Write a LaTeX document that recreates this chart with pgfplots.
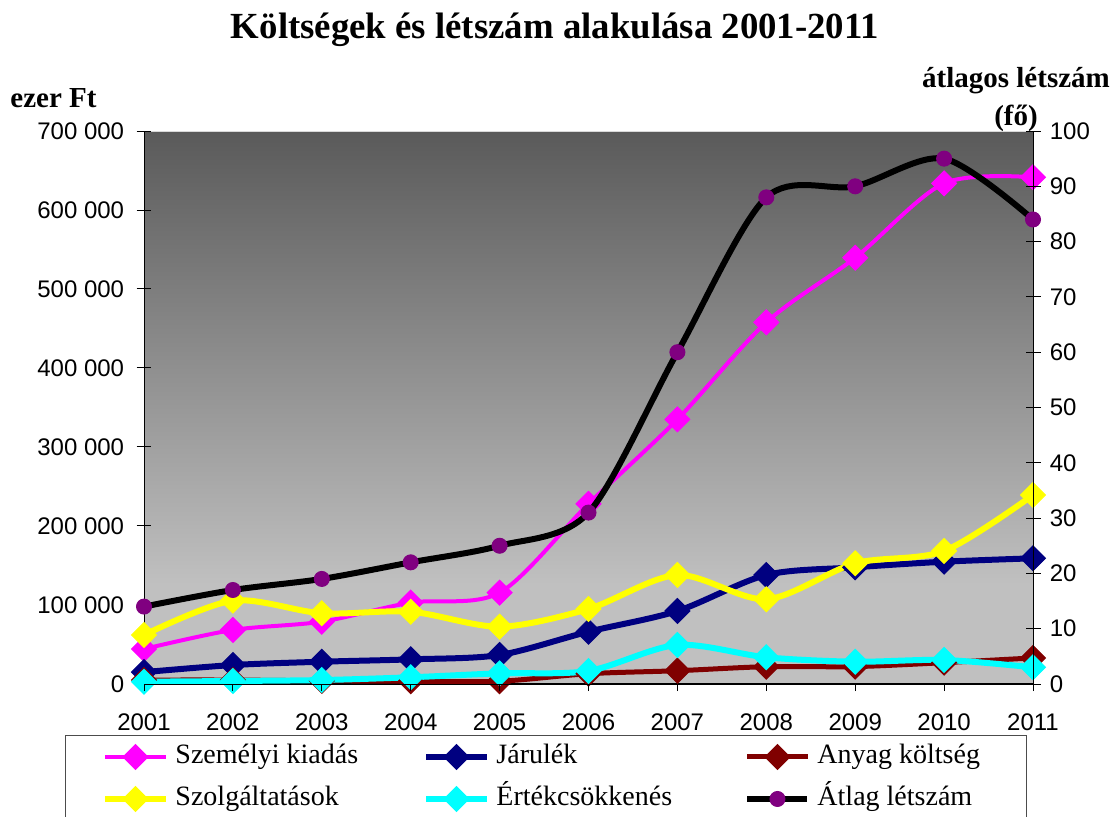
\documentclass[border=0pt]{standalone}
\usepackage{fontspec}
\setmainfont{Liberation Serif}
\newfontfamily\arial{Liberation Sans}
\usepackage{pgfplots}
\pgfplotsset{compat=1.18}

\definecolor{cMag}{RGB}{255,0,255}
\definecolor{cNavy}{RGB}{0,0,128}
\definecolor{cDred}{RGB}{128,0,0}
\definecolor{cYel}{RGB}{255,255,0}
\definecolor{cCyan}{RGB}{0,255,255}
\definecolor{cPurp}{RGB}{128,0,128}
\definecolor{bgTop}{RGB}{90,90,90}
\definecolor{bgBot}{RGB}{192,192,192}
\pgfdeclareverticalshading{plotbg}{100bp}{color(0bp)=(bgBot); color(25bp)=(bgBot); color(34bp)=(bgBot); color(75bp)=(bgTop); color(100bp)=(bgTop)}

\pgfplotstableread{
year val
2001 44300
2002 68400
2003 78900
2004 103000
2005 115600
2006 228000
2007 335000
2008 457800
2009 539600
2010 633800
2011 641400
}\szemelyi
\pgfplotstableread{
year val
2001 15000
2002 24000
2003 28200
2004 31200
2005 36700
2006 66200
2007 92400
2008 138000
2009 147700
2010 154800
2011 159100
}\jarulek
\pgfplotstableread{
year val
2001 5000
2002 5000
2003 4000
2004 3500
2005 3500
2006 13000
2007 16800
2008 21900
2009 22000
2010 27000
2011 33000
}\anyag
\pgfplotstableread{
year val
2001 62000
2002 105500
2003 89500
2004 91500
2005 72500
2006 95000
2007 138000
2008 107200
2009 152800
2010 168400
2011 239200
}\szolg
\pgfplotstableread{
year val
2001 2900
2002 3800
2003 5000
2004 8500
2005 13500
2006 16500
2007 49400
2008 33800
2009 28200
2010 30400
2011 21100
}\ertek
\pgfplotstableread{
year val
2001 14
2002 17
2003 19
2004 22
2005 25
2006 31
2007 60
2008 88
2009 90
2010 95
2011 84
}\letszam

\pgfplotsset{
  common/.style={
    at={(72bp,-65.5bp)}, anchor=north west,
    width=444.5bp, height=276.5bp, scale only axis,
    xmin=2001, xmax=2011, clip=false,
    scaled y ticks=false, scaled x ticks=false,
    axis line style={black, line width=0.5bp},
    every tick/.style={black, line width=0.5bp},
    tick label style={font=\arial\fontsize{12bp}{14bp}\selectfont, inner sep=0pt},
  },
  diam/.style={mark=square*, mark size=4.4bp, mark options={rotate=45, solid, line width=0.5bp}},
}

\begin{document}
\begin{tikzpicture}
\useasboundingbox (0,0) rectangle (559.5bp,-408.5bp);

\begin{axis}[common,
  ymin=0, ymax=700000,
  axis y line*=left, axis x line*=bottom,
  axis background/.style={shading=plotbg, draw=black!15, line width=0.5bp},
  tick align=center, major tick length=7.5bp,
  ytick={0,100000,200000,300000,400000,500000,600000,700000},
  yticklabels={0,100 000,200 000,300 000,400 000,500 000,600 000,700 000},
  xtick={2001,2002,2003,2004,2005,2006,2007,2008,2009,2010,2011},
  xticklabels={2001,2002,2003,2004,2005,2006,2007,2008,2009,2010,2011},
  xtick style={draw=none},
  yticklabel style={anchor=east, xshift=-6bp},
  xticklabel style={anchor=north, yshift=-11bp},
  legend columns=3,
  legend style={at={(-0.0889,-0.0922)}, anchor=north west, draw=black!70, line width=0.5bp,
    fill=white, inner xsep=18.5bp, inner ysep=4bp,
    font=\fontsize{14bp}{16bp}\selectfont,
    nodes={inner sep=0pt, text height=10bp, text depth=3.5bp},
    /tikz/every odd column/.style={column sep=3.5bp},
    row sep=7.5bp},
  legend cell align=left,
  legend image code/.code={\draw[mark repeat=2,mark phase=2,#1] plot coordinates {(0bp,0bp) (15bp,0bp) (30bp,0bp)};},
]
\addplot[cMag, line width=2bp, smooth, diam] table[x=year,y=val] {\szemelyi};
\addlegendentry{\makebox[124bp][l]{Személyi kiadás}}
\addplot[cNavy, line width=3bp, smooth, diam] table[x=year,y=val] {\jarulek};
\addlegendentry{\makebox[124bp][l]{Járulék}}
\addplot[cDred, line width=2.5bp, smooth, diam] table[x=year,y=val] {\anyag};
\addlegendentry{\makebox[86bp][l]{Anyag költség}}
\addplot[cYel, line width=3bp, smooth, diam] table[x=year,y=val] {\szolg};
\addlegendentry{\makebox[124bp][l]{Szolgáltatások}}
\addplot[cCyan, line width=3bp, smooth, diam] table[x=year,y=val] {\ertek};
\addlegendentry{\makebox[124bp][l]{Értékcsökkenés}}
\addlegendimage{black, line width=3bp, mark=*, mark size=3.75bp, mark options={fill=cPurp, draw=cPurp, solid, line width=0.5bp}}
\addlegendentry{\makebox[86bp][l]{Átlag létszám}}
\end{axis}

\begin{axis}[common,
  ymin=0, ymax=100,
  axis y line*=right, axis x line=none,
  tick align=center, major tick length=7.5bp,
  ytick={0,10,20,30,40,50,60,70,80,90,100},
  yticklabels={0,10,20,30,40,50,60,70,80,90,100},
  yticklabel style={anchor=west, xshift=4.5bp},
]
\addplot[black, line width=3bp, smooth, mark=*, mark size=3.75bp, mark options={fill=cPurp, draw=cPurp, solid, line width=0.5bp}] table[x=year,y=val] {\letszam};
\end{axis}

\begin{axis}[common,
  ymin=0, ymax=1,
  axis y line=none, axis x line*=bottom,
  tick align=outside, major tick length=3.5bp,
  xtick={2001,2002,2003,2004,2005,2006,2007,2008,2009,2010,2011},
  xticklabels={},
]
\end{axis}

\node[anchor=base, font=\bfseries\fontsize{18.4bp}{21bp}\selectfont, inner sep=0pt] at (277.5bp,-19bp) {Költségek és létszám alakulása 2001-2011};
\node[anchor=base west, font=\bfseries\fontsize{14.5bp}{17bp}\selectfont, inner sep=0pt] at (5bp,-53.5bp) {ezer Ft};
\node[anchor=base, font=\bfseries\fontsize{14.5bp}{17bp}\selectfont, inner sep=0pt] at (508bp,-43.5bp) {átlagos létszám};
\node[anchor=base, font=\bfseries\fontsize{14.5bp}{17bp}\selectfont, inner sep=0pt] at (508bp,-62.5bp) {(fő)};
\end{tikzpicture}
\end{document}
